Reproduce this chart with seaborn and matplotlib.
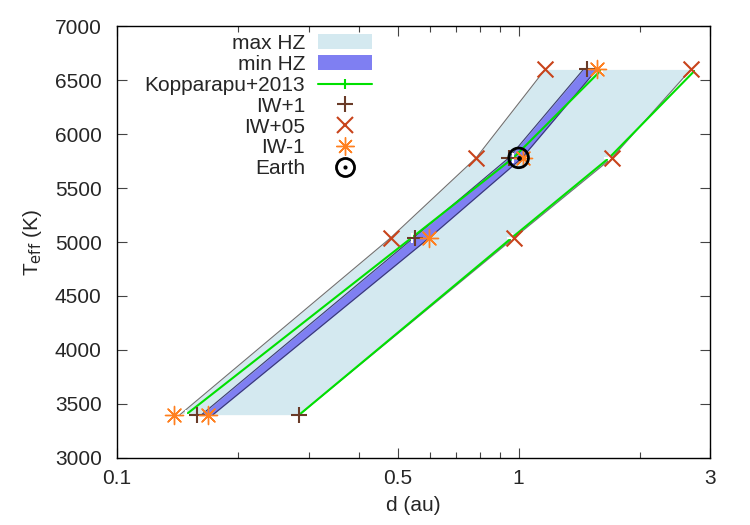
import matplotlib
matplotlib.use("Agg")
import matplotlib.pyplot as plt
from matplotlib.patches import Patch
from matplotlib.lines import Line2D
from matplotlib.ticker import FixedLocator, NullFormatter
import seaborn as sns

# stellar effective temperatures (K)
teff = [3400, 5040, 5780, 6600]

# habitable zone edges (au)
max_hz_inner = [0.1435, 0.4805, 0.7837, 1.164]
max_hz_outer = [0.2845, 0.9745, 1.707, 2.685]
min_hz_inner = [0.1625, 0.548, 0.945, 1.45]
min_hz_outer = [0.1734, 0.5996, 1.02, 1.566]

# Kopparapu+2013 limits
kop_inner = [0.1485, 0.5418, 0.97, 1.612]
kop_outer = [0.2845, 0.962, 1.68, 2.763]

# model points
iw1_d = [0.1585, 0.5524, 0.9487, 1.484, 0.2845]
iw1_t = [3400, 5040, 5780, 6600, 3400]
iw05_d = [0.4805, 0.7837, 1.164, 0.9745, 1.707, 2.685]
iw05_t = [5040, 5780, 6600, 5040, 5780, 6600]
iwm1_d = [0.1387, 0.1688, 0.5996, 1.024, 1.566]
iwm1_t = [3400, 3400, 5040, 5780, 6600]
earth_d = [1.0]
earth_t = [5780]

x_ticks = [0.1, 0.5, 1, 3]
x_ticklabels = ["0.1", "0.5", "1", "3"]
y_ticks = [3000, 3500, 4000, 4500, 5000, 5500, 6000, 6500, 7000]

c_max = "#d4e9f0"
c_min = "#7f7ff2"
c_kop = "#00e000"
c_iw1 = "#6a3b28"
c_iw05 = "#c8431a"
c_iwm1 = "#ff8020"

sns.set_style("ticks")
plt.rcParams["font.family"] = ["Liberation Sans", "DejaVu Sans"]
plt.rcParams["mathtext.default"] = "regular"
plt.rcParams["font.size"] = 15

fig = plt.figure(figsize=(7.5, 5.25), dpi=100)
ax = fig.add_axes([0.156, 0.128, 0.791, 0.822])

# filled zones
ax.fill_betweenx(teff, max_hz_inner, max_hz_outer, color=c_max, lw=0, zorder=1)
ax.plot(max_hz_inner, teff, color="#707070", lw=0.8, zorder=2)
ax.plot(max_hz_outer, teff, color="#707070", lw=0.8, zorder=2)
ax.fill_betweenx(teff, min_hz_inner, min_hz_outer, color=c_min, lw=0, zorder=3)
ax.plot(min_hz_inner, teff, color="#3a3a70", lw=0.8, zorder=4)
ax.plot(min_hz_outer, teff, color="#3a3a70", lw=0.8, zorder=4)

# Kopparapu lines
for xs in (kop_inner, kop_outer):
    sns.lineplot(x=xs, y=teff, sort=False, estimator=None, color=c_kop, lw=1.5,
                 marker="+", markersize=7, markeredgewidth=1.5, ax=ax, zorder=5)

sns.scatterplot(x=iw1_d, y=iw1_t, marker="+", s=130, color=c_iw1, linewidth=1.5, ax=ax, zorder=6)
sns.scatterplot(x=iw05_d, y=iw05_t, marker="x", s=130, color=c_iw05, linewidth=1.5, ax=ax, zorder=6)
sns.scatterplot(x=iwm1_d, y=iwm1_t, marker=(8, 2, 0), s=170, color=c_iwm1, linewidth=1.0, ax=ax, zorder=7)
ax.scatter(earth_d, earth_t, s=200, facecolors="none", edgecolors="black", linewidths=2, zorder=8)
ax.scatter(earth_d, earth_t, s=6, color="black", zorder=8)

ax.set_xscale("log")
ax.set_xlim(0.1, 3)
ax.set_ylim(3000, 7000)
ax.xaxis.set_major_locator(FixedLocator(x_ticks))
ax.set_xticklabels(x_ticklabels)
ax.xaxis.set_minor_locator(FixedLocator([0.2, 0.3, 0.4, 0.6, 0.7, 0.8, 0.9, 2]))
ax.xaxis.set_minor_formatter(NullFormatter())
ax.set_yticks(y_ticks)
ax.tick_params(which="both", direction="in", top=True, right=True, width=0.8, color="#444444")
ax.tick_params(which="major", length=7, pad=8)
ax.tick_params(axis="y", which="major", pad=11)
ax.tick_params(which="minor", length=4)
for s in ax.spines.values():
    s.set_linewidth(1.0)
    s.set_color("black")
ax.set_xlabel("d (au)", labelpad=6)
ax.set_ylabel(r"T$_{\mathrm{eff}}$ (K)", labelpad=8)

handles = [
    Patch(facecolor=c_max, edgecolor="none"),
    Patch(facecolor=c_min, edgecolor="none"),
    Line2D([], [], color=c_kop, lw=1.5, marker="+", markersize=7, markeredgewidth=1.5),
    Line2D([], [], ls="none", color=c_iw1, marker="+", markersize=11, markeredgewidth=1.5),
    Line2D([], [], ls="none", color=c_iw05, marker="x", markersize=11, markeredgewidth=1.5),
    Line2D([], [], ls="none", color=c_iwm1, marker=(8, 2, 0), markersize=13, markeredgewidth=1.0),
    (Line2D([], [], ls="none", marker="o", markersize=13, markerfacecolor="none",
            markeredgecolor="black", markeredgewidth=2),
     Line2D([], [], ls="none", marker="o", markersize=2, color="black")),
]
labels = ["max HZ", "min HZ", "Kopparapu+2013", "IW+1", "IW+05", "IW-1", "Earth"]
ax.legend(handles, labels, loc="upper right", bbox_to_anchor=(0.447, 1.006),
          frameon=False, markerfirst=False, borderpad=0, labelspacing=0.09,
          handlelength=2.6, handletextpad=0.6, handleheight=0.7)

fig.savefig("out.png", dpi=100)
